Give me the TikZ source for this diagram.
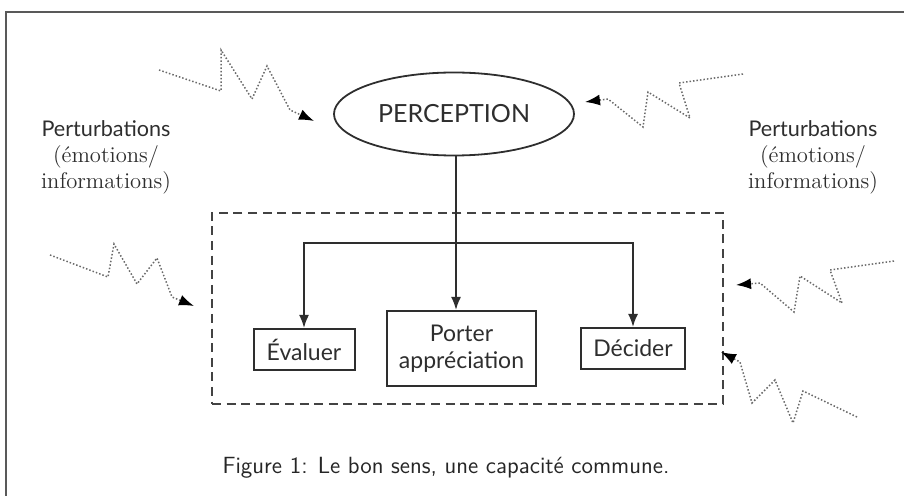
\documentclass[tikz,border=0pt]{standalone}
\usepackage{fontspec}
\newfontfamily\lato{Lato}
\usetikzlibrary{shapes.geometric,arrows.meta}
\definecolor{ink}{HTML}{2E2E2E}
\definecolor{zigc}{HTML}{6A6A6A}
\begin{document}
\begin{tikzpicture}[x=0.5pt,y=-0.5pt,
  conn/.style={draw=ink, line width=0.9pt},
  arr/.style={conn, -{Latex[length=6.5pt,width=5pt]}},
  boxnode/.style={draw=ink, line width=1pt, font=\lato\fontsize{11.5}{13.5}\selectfont, align=center, inner sep=0pt, text=ink},
  zig/.style={draw=zigc, line width=0.75pt, densely dotted, -{Latex[length=7.5pt,width=5.5pt,black]}},
  lbl/.style={align=center, text=ink, font=\fontsize{11.3}{13}\selectfont},
  frameline/.style={draw=black!65, line width=0.8pt}
]
\useasboundingbox (0,0) rectangle (904,496);
% frame
\coordinate (ftl) at (6,12);
\coordinate (ftr) at (904,12);
\coordinate (fbl) at (6,496);
\draw[frameline] (ftr) -- (ftl) -- (fbl);

% group box
\node[draw=ink!90, dashed, dash pattern=on 4.5pt off 2.8pt, line width=1.2pt, minimum width=255.5pt, minimum height=95.5pt, inner sep=0pt] (grp) at (467.5,308.5) {};

% perception
\node[ellipse, draw=ink, line width=0.9pt, minimum width=120pt, minimum height=41.5pt, inner sep=0pt, text=ink, font=\lato\fontsize{12.5}{14}\selectfont] (perc) at (454,114) {PERCEPTION};

% boxes
\node[boxnode, minimum width=50.5pt, minimum height=20.5pt] (eval) at (304,349.5) {Évaluer};
\node[boxnode, minimum width=74.5pt, minimum height=37.5pt] (port) at (461.5,348.5) {Porter\\appréciation};
\node[boxnode, minimum width=52pt, minimum height=20.5pt] (dec) at (633,348.5) {Décider};

% connectors
\coordinate (j) at (456,243);
\draw[arr] (perc.south -| j) -- (j |- port.north);
\draw[arr] (j) -| (eval.north);
\draw[arr] (j) -| (dec.north);

% labels
\node[lbl] (pl) at (106,157) {{\lato\fontsize{10.8}{13}\selectfont Perturbations}\\(émotions/\\informations)};
\node[lbl] (pr) at (813,157) {{\lato\fontsize{10.8}{13}\selectfont Perturbations}\\(émotions/\\informations)};

% perturbation zigzags
\coordinate (t1) at (314,121);
\coordinate (t2) at (585,102);
\coordinate (t3) at (194,306);
\coordinate (t4) at (736,285);
\coordinate (t5) at (721,352);
\draw[zig] (159,70) -- (221,91) -- (221,50) -- (252,99) -- (267,66) -- (290,110) -- (t1);
\draw[zig] (743,74) -- (679,83) -- (690,118) -- (648,92) -- (643,127) -- (608,99) -- (t2);
\draw[zig] (50,255) -- (108,277) -- (114,244) -- (137,284) -- (157,258) -- (172,297) -- (t3);
\draw[zig] (894,261) -- (830,270) -- (842,303) -- (800,276) -- (794,312) -- (760,283) -- (t4);
\draw[zig] (857,417) -- (803,391) -- (793,423) -- (775,380) -- (752,403) -- (740,362) -- (t5);

% caption
\node[text=black!85, font=\sffamily\fontsize{11.7}{14}\selectfont] (cap) at (446,468) {Figure 1: Le bon sens, une capacité commune.};
\end{tikzpicture}
\end{document}
